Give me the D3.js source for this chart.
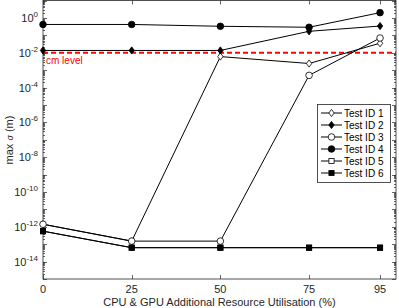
<!DOCTYPE html>
<html>
<head>
<meta charset="utf-8">
<script src="https://cdn.jsdelivr.net/npm/d3@7"></script>
<style>
  body { margin: 0; background: #fff; }
  text { font-family: "Liberation Sans", Arial, sans-serif; }
</style>
</head>
<body>
<div id="chart"></div>
<script>
// data
var xValues = [0, 25, 50, 75, 95];
var xTicks = [0, 25, 50, 75, 95];
var seriesNames = ["Test ID 1", "Test ID 2", "Test ID 3", "Test ID 4", "Test ID 5", "Test ID 6"];
var test1 = [1.4e-12, 1.5e-13, 0.006, 0.0024, 0.035];
var test2 = [0.0135, 0.0135, 0.0135, 0.17, 0.34];
var test3 = [1.4e-12, 1.5e-13, 1.5e-13, 5e-4, 0.07];
var test4 = [0.42, 0.42, 0.33, 0.29, 2.0];
var test5 = [5.6e-13, 6.3e-14, 6.3e-14, 6.3e-14, 6.3e-14];
var test6 = [5.6e-13, 6.3e-14, 6.3e-14, 6.3e-14, 6.3e-14];
var cmLevel = 0.01;
var yTickExps = [0, -2, -4, -6, -8, -10, -12, -14];

var series = [
  {name: seriesNames[0], values: test1, marker: "diamond", fill: "#fff"},
  {name: seriesNames[1], values: test2, marker: "diamond", fill: "#000"},
  {name: seriesNames[2], values: test3, marker: "circle", fill: "#fff"},
  {name: seriesNames[3], values: test4, marker: "circle", fill: "#000"},
  {name: seriesNames[4], values: test5, marker: "square", fill: "#fff"},
  {name: seriesNames[5], values: test6, marker: "square", fill: "#000"}
];

var width = 399, height = 308;
var pLeft = 43, pRight = 396, pTop = 0.5, pBottom = 279;
var axisColor = "#262626";

var svg = d3.select("#chart").append("svg")
  .attr("width", width).attr("height", height);

var x = d3.scaleLinear().domain([0, 99.5]).range([pLeft, pRight]);
var y = d3.scaleLog().domain([1e-15, 1e1]).range([pBottom, pTop]);

// caja
svg.append("rect")
  .attr("x", pLeft).attr("y", pTop)
  .attr("width", pRight - pLeft).attr("height", pBottom - pTop)
  .attr("fill", "none").attr("stroke", axisColor).attr("stroke-width", 0.8);

// y ticks, major each decade and minor 2..9
var majors = d3.range(-15, 2).map(e => Math.pow(10, e));
var minors = [];
d3.range(-15, 1).forEach(e => {
  for (var k = 2; k <= 9; k++) minors.push(k * Math.pow(10, e));
});
var gy = svg.append("g").attr("stroke", axisColor).attr("stroke-width", 0.7);
majors.forEach(v => {
  var yy = Math.round(y(v)) + 0.5;
  gy.append("line").attr("x1", pLeft).attr("x2", pLeft + 4).attr("y1", yy).attr("y2", yy);
  gy.append("line").attr("x1", pRight).attr("x2", pRight - 4).attr("y1", yy).attr("y2", yy);
});
minors.forEach(v => {
  var yy = Math.round(y(v)) + 0.5;
  gy.append("line").attr("x1", pLeft).attr("x2", pLeft + 2).attr("y1", yy).attr("y2", yy);
  gy.append("line").attr("x1", pRight).attr("x2", pRight - 2).attr("y1", yy).attr("y2", yy);
});

// y tick labels
yTickExps.forEach(e => {
  var t = svg.append("text")
    .attr("x", pLeft - 5).attr("y", y(Math.pow(10, e)) + 4)
    .attr("text-anchor", "end").attr("font-size", 11).attr("fill", axisColor);
  t.append("tspan").text("10");
  t.append("tspan").attr("dy", -5).attr("font-size", 8).text(e);
});

// x ticks
var gx = svg.append("g").attr("stroke", axisColor).attr("stroke-width", 0.7);
xTicks.forEach(v => {
  var xx = Math.round(x(v)) + 0.5;
  gx.append("line").attr("x1", xx).attr("x2", xx).attr("y1", pBottom).attr("y2", pBottom - 4);
  gx.append("line").attr("x1", xx).attr("x2", xx).attr("y1", pTop).attr("y2", pTop + 4);
});
svg.append("g").selectAll("text")
  .data(xTicks).enter().append("text")
  .attr("x", d => x(d)).attr("y", pBottom + 14)
  .attr("text-anchor", "middle").attr("font-size", 11).attr("fill", axisColor)
  .text(d => d);

// axis labels
svg.append("text")
  .attr("x", (pLeft + pRight) / 2).attr("y", 306)
  .attr("text-anchor", "middle").attr("font-size", 11).attr("fill", axisColor)
  .text("CPU & GPU Additional Resource Utilisation (%)");

var yl = svg.append("text")
  .attr("transform", "translate(13," + 140 + ") rotate(-90)")
  .attr("text-anchor", "middle").attr("font-size", 11).attr("fill", axisColor);
yl.append("tspan").text("max  ");
yl.append("tspan").attr("font-style", "italic").attr("font-size", 9).text("σ");
yl.append("tspan").text(" (m)");

// cm level line
svg.append("line")
  .attr("x1", pLeft).attr("x2", pRight)
  .attr("y1", y(cmLevel)).attr("y2", y(cmLevel))
  .attr("stroke", "#ff0000").attr("stroke-width", 2)
  .attr("stroke-dasharray", "5,3");
svg.append("text")
  .attr("x", pLeft + 3).attr("y", y(cmLevel) + 11)
  .attr("font-size", 10).attr("fill", "#ff0000")
  .text("cm level");

// markers
function drawMarker(g, type, cx, cy, fill) {
  if (type === "circle") {
    g.append("circle").attr("cx", cx).attr("cy", cy).attr("r", 3.3)
      .attr("fill", fill).attr("stroke", "#000").attr("stroke-width", 0.8);
  } else if (type === "diamond") {
    var s = 3.6;
    g.append("path")
      .attr("d", `M${cx},${cy - s}L${cx + s * 0.75},${cy}L${cx},${cy + s}L${cx - s * 0.75},${cy}Z`)
      .attr("fill", fill).attr("stroke", "#000").attr("stroke-width", 0.8);
  } else {
    g.append("rect").attr("x", cx - 2.6).attr("y", cy - 2.6).attr("width", 5.2).attr("height", 5.2)
      .attr("fill", fill).attr("stroke", "#000").attr("stroke-width", 0.8);
  }
}

var line = d3.line().x((d, i) => x(xValues[i])).y(d => y(d));

series.forEach(s => {
  var g = svg.append("g");
  g.append("path").attr("d", line(s.values))
    .attr("fill", "none").attr("stroke", "#000").attr("stroke-width", 1);
  s.values.forEach((v, i) => drawMarker(g, s.marker, x(xValues[i]), y(v), s.fill));
});

// legend
var lx = 317, ly = 104, lw = 73, lh = 78, rowH = 12;
var legend = svg.append("g");
legend.append("rect").attr("x", lx + 0.5).attr("y", ly + 0.5).attr("width", lw).attr("height", lh)
  .attr("fill", "#fff").attr("stroke", axisColor).attr("stroke-width", 0.8);
series.forEach((s, i) => {
  var cy = ly + 9 + i * rowH;
  legend.append("line").attr("x1", lx + 4).attr("x2", lx + 25).attr("y1", cy).attr("y2", cy)
    .attr("stroke", "#000").attr("stroke-width", 1);
  drawMarker(legend, s.marker, lx + 14.5, cy, s.fill);
  legend.append("text").attr("x", lx + 27).attr("y", cy + 3.6)
    .attr("font-size", 10).attr("fill", "#000").text(s.name);
});
</script>
</body>
</html>
